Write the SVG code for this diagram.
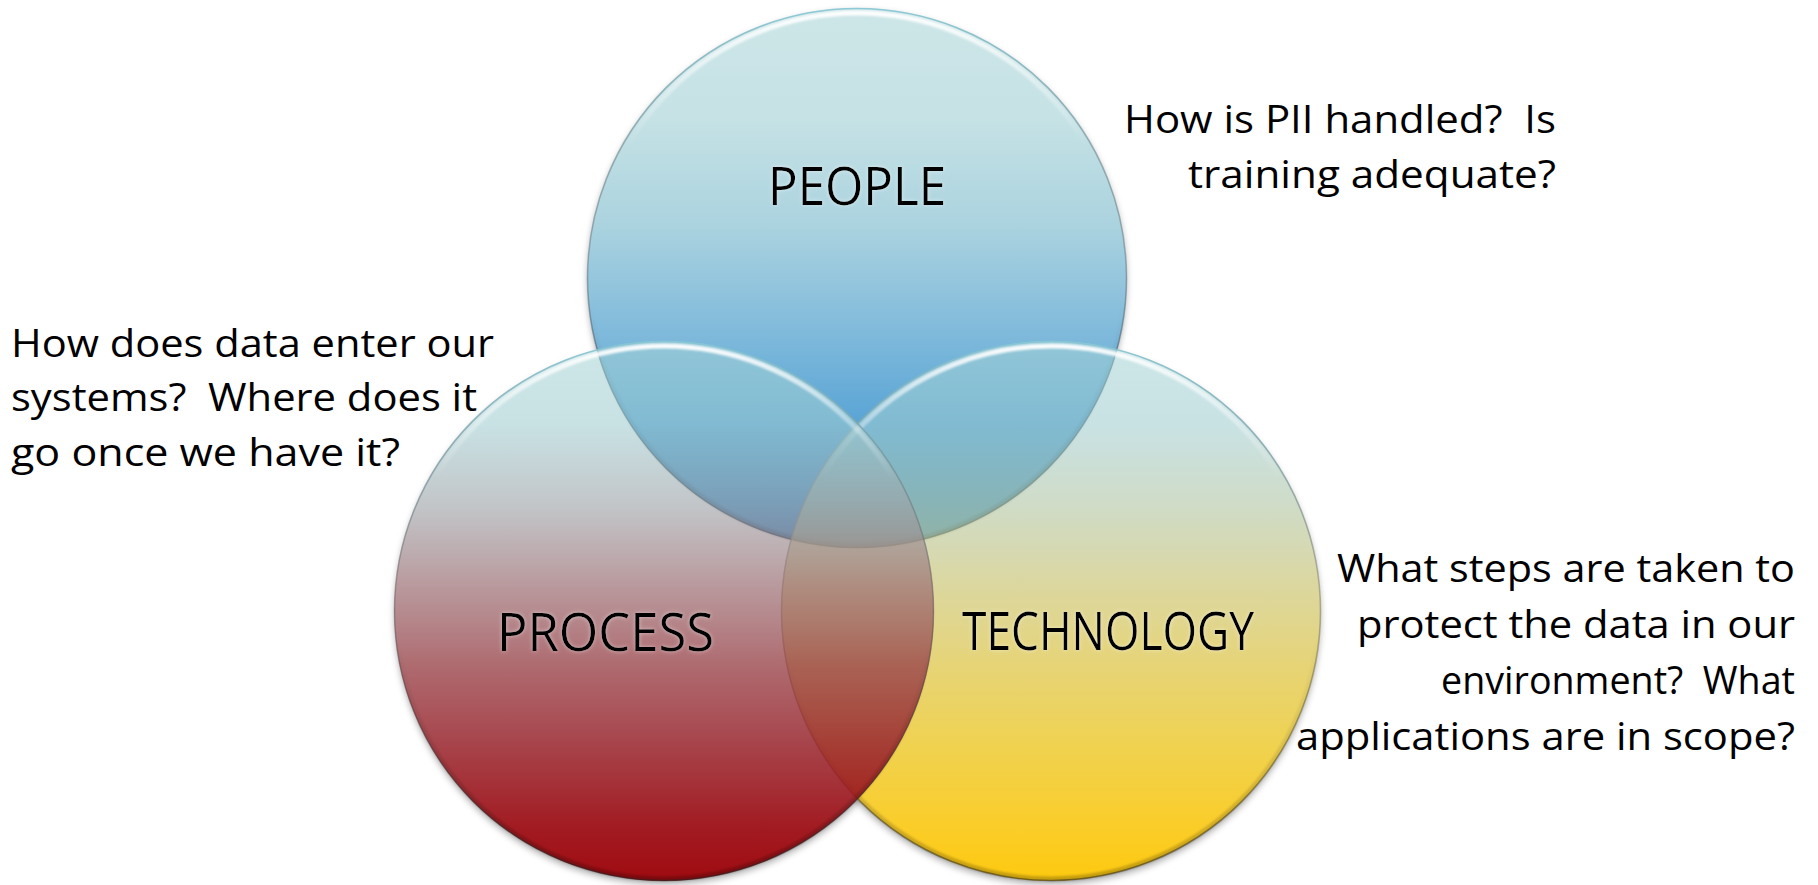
<svg xmlns="http://www.w3.org/2000/svg" width="1818" height="885" viewBox="0 0 1818 885">
  <style>
    .label { font-family: "Open Sans", "Liberation Sans", sans-serif; font-size: 53px; fill: #000; }
    .note { font-family: "Open Sans", "Liberation Sans", sans-serif; font-size: 38px; fill: #000; white-space: pre; }
    .edge { fill: none; stroke: url(#edgeGrad); stroke-width: 1.6; }
    .shine { fill: none; stroke: url(#shineGrad); stroke-width: 5; filter: url(#soft); }
    .shade { fill: none; stroke: url(#shadeGrad); stroke-width: 5; filter: url(#soft); }
  </style>
  <defs>
    <!-- body fills: light cyan at the top, fading into each circle's colour -->
    <linearGradient id="gPeople" x1="0" y1="0" x2="0" y2="1">
      <stop offset="0" stop-color="#cde6e8"/>
      <stop offset="0.2" stop-color="#c6e2e5"/>
      <stop offset="0.4" stop-color="#abd3df"/>
      <stop offset="0.6" stop-color="#80badb"/>
      <stop offset="0.8" stop-color="#52a0d4"/>
      <stop offset="1" stop-color="#3a8ece"/>
    </linearGradient>
    <linearGradient id="gProcess" x1="0" y1="0" x2="0" y2="1">
      <stop offset="0" stop-color="#a4d2d5" stop-opacity="0.55"/>
      <stop offset="0.15" stop-color="#9fccd0" stop-opacity="0.57"/>
      <stop offset="0.3" stop-color="#9da3a8" stop-opacity="0.62"/>
      <stop offset="0.45" stop-color="#9b6f74" stop-opacity="0.7"/>
      <stop offset="0.6" stop-color="#9a464c" stop-opacity="0.8"/>
      <stop offset="0.75" stop-color="#9b2931" stop-opacity="0.88"/>
      <stop offset="0.9" stop-color="#9d0f16" stop-opacity="0.95"/>
      <stop offset="1" stop-color="#9f0b10" stop-opacity="1"/>
    </linearGradient>
    <linearGradient id="gTech" x1="0" y1="0" x2="0" y2="1">
      <stop offset="0" stop-color="#a4d2d5" stop-opacity="0.55"/>
      <stop offset="0.15" stop-color="#9fccd0" stop-opacity="0.57"/>
      <stop offset="0.3" stop-color="#b2c6a6" stop-opacity="0.62"/>
      <stop offset="0.45" stop-color="#ccc677" stop-opacity="0.7"/>
      <stop offset="0.6" stop-color="#e0c954" stop-opacity="0.8"/>
      <stop offset="0.75" stop-color="#eecc38" stop-opacity="0.88"/>
      <stop offset="0.9" stop-color="#faca1d" stop-opacity="0.95"/>
      <stop offset="1" stop-color="#fdc90f" stop-opacity="1"/>
    </linearGradient>
    <!-- bevel: thin outline, bright upper band, darker lower rim -->
    <linearGradient id="edgeGrad" x1="0" y1="0" x2="0" y2="1">
      <stop offset="0" stop-color="#86c6d4" stop-opacity="0.9"/>
      <stop offset="0.45" stop-color="#555555" stop-opacity="0.35"/>
      <stop offset="1" stop-color="#222222" stop-opacity="0.55"/>
    </linearGradient>
    <linearGradient id="shineGrad" x1="0" y1="0" x2="0" y2="1">
      <stop offset="0" stop-color="#ffffff" stop-opacity="0.95"/>
      <stop offset="0.1" stop-color="#ffffff" stop-opacity="0.55"/>
      <stop offset="0.25" stop-color="#ffffff" stop-opacity="0"/>
    </linearGradient>
    <linearGradient id="shadeGrad" x1="0" y1="0" x2="0" y2="1">
      <stop offset="0.55" stop-color="#000000" stop-opacity="0"/>
      <stop offset="1" stop-color="#000000" stop-opacity="0.22"/>
    </linearGradient>
    <filter id="soft" x="-5%" y="-5%" width="110%" height="110%">
      <feGaussianBlur stdDeviation="1.2"/>
    </filter>
    <filter id="drop" x="-10%" y="-10%" width="120%" height="120%">
      <feGaussianBlur stdDeviation="3"/>
    </filter>
    <filter id="glow" x="-10%" y="-30%" width="120%" height="160%">
      <feGaussianBlur in="SourceAlpha" stdDeviation="2.2" result="b"/>
      <feFlood flood-color="#ffffff" flood-opacity="0.45"/>
      <feComposite in2="b" operator="in" result="halo"/>
      <feMerge><feMergeNode in="halo"/><feMergeNode in="SourceGraphic"/></feMerge>
    </filter>
    <!-- shadow only outside the circles -->
    <mask id="outside" maskUnits="userSpaceOnUse" x="0" y="0" width="1818" height="885">
      <rect x="0" y="0" width="1818" height="885" fill="#fff"/>
      <circle cx="857" cy="278" r="270" fill="#000"/>
      <circle cx="664" cy="611" r="270" fill="#000"/>
      <circle cx="1051" cy="611" r="270" fill="#000"/>
    </mask>
  </defs>

  <rect x="0" y="0" width="1818" height="885" fill="#ffffff"/>

  <g id="shadows" mask="url(#outside)" filter="url(#drop)" fill="#000" fill-opacity="0.28">
    <circle cx="857" cy="281" r="270"/>
    <circle cx="664" cy="615" r="270"/>
    <circle cx="1051" cy="615" r="270"/>
  </g>

  <g id="node-people">
    <circle cx="857" cy="278" r="270" fill="url(#gPeople)"/>
    <circle class="shade" cx="857" cy="278" r="268"/>
    <circle class="shine" cx="857" cy="278" r="265"/>
    <circle class="edge" cx="857" cy="278" r="269.5"/>
    <text class="label" x="768" y="205" textLength="178" lengthAdjust="spacingAndGlyphs" filter="url(#glow)">PEOPLE</text>
  </g>

  <g id="node-technology">
    <circle cx="1051" cy="611" r="270" fill="url(#gTech)"/>
    <circle class="shade" cx="1051" cy="611" r="268"/>
    <circle class="shine" cx="1051" cy="611" r="265"/>
    <circle class="edge" cx="1051" cy="611" r="269.5"/>
    <text class="label" x="962" y="650" textLength="292" lengthAdjust="spacingAndGlyphs" filter="url(#glow)">TECHNOLOGY</text>
  </g>

  <g id="node-process">
    <circle cx="664" cy="611" r="270" fill="url(#gProcess)"/>
    <circle class="shade" cx="664" cy="611" r="268"/>
    <circle class="shine" cx="664" cy="611" r="265"/>
    <circle class="edge" cx="664" cy="611" r="269.5"/>
    <text class="label" x="497" y="651" textLength="217" lengthAdjust="spacingAndGlyphs" filter="url(#glow)">PROCESS</text>
  </g>

  <g id="note-people">
    <text class="note" xml:space="preserve" x="1124" y="133" textLength="432" lengthAdjust="spacingAndGlyphs">How is PII handled?  Is</text>
    <text class="note" xml:space="preserve" x="1188" y="188" textLength="368" lengthAdjust="spacingAndGlyphs">training adequate?</text>
  </g>

  <g id="note-process">
    <text class="note" xml:space="preserve" x="11" y="357" textLength="483" lengthAdjust="spacingAndGlyphs">How does data enter our</text>
    <text class="note" xml:space="preserve" x="11" y="411" textLength="466" lengthAdjust="spacingAndGlyphs">systems?  Where does it</text>
    <text class="note" xml:space="preserve" x="11" y="466" textLength="389" lengthAdjust="spacingAndGlyphs">go once we have it?</text>
  </g>

  <g id="note-technology">
    <text class="note" xml:space="preserve" x="1337" y="582" textLength="458" lengthAdjust="spacingAndGlyphs">What steps are taken to</text>
    <text class="note" xml:space="preserve" x="1357" y="638" textLength="438" lengthAdjust="spacingAndGlyphs">protect the data in our</text>
    <text class="note" xml:space="preserve" x="1441" y="694" textLength="354" lengthAdjust="spacingAndGlyphs">environment?  What</text>
    <text class="note" xml:space="preserve" x="1296" y="750" textLength="499" lengthAdjust="spacingAndGlyphs">applications are in scope?</text>
  </g>
</svg>
